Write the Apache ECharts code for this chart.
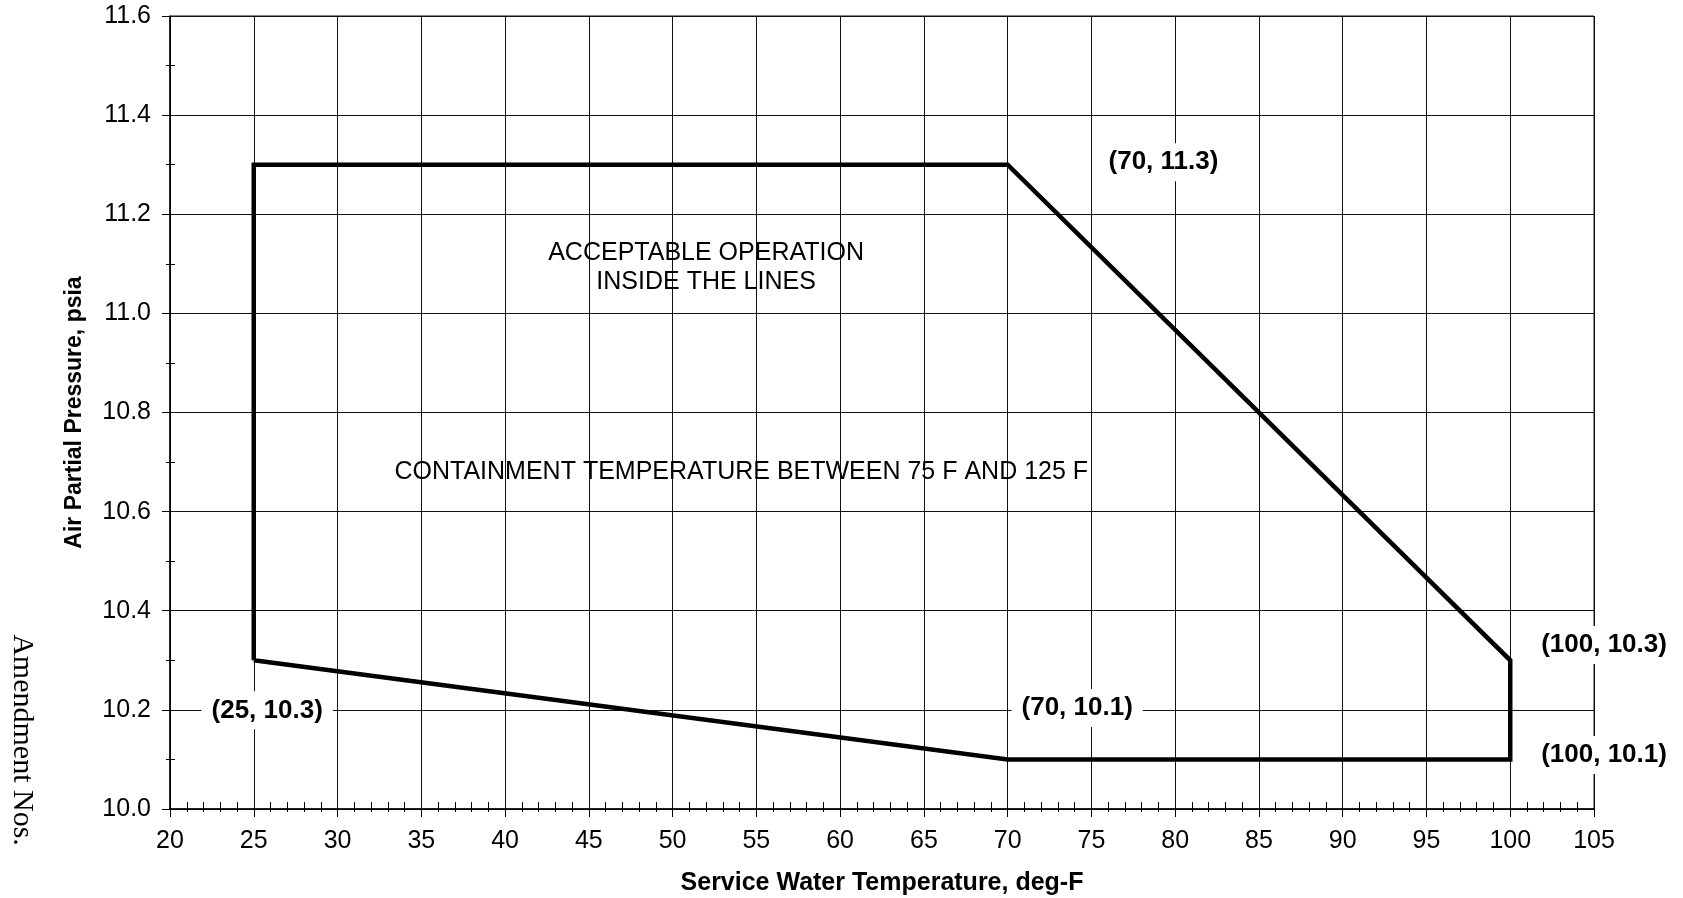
<!DOCTYPE html>
<html>
<head>
<meta charset="utf-8">
<script src="https://cdn.jsdelivr.net/npm/echarts@6/dist/echarts.min.js"></script>
<style>
html,body{margin:0;padding:0;background:#fff;}
#chart{width:1683px;height:898px;}
</style>
</head>
<body>
<div id="chart"></div>
<script>
// Axis ranges / ticks
const xMin = 20, xMax = 105, xStep = 5;
const yMin = 10.0, yMax = 11.6, yStep = 0.2;

// Boundary polygon (closed)
const boundaryX = [25, 25, 70, 100, 100, 70, 25];
const boundaryY = [10.3, 11.3, 11.3, 10.3, 10.1, 10.1, 10.3];

// Point labels and their anchor positions (data space)
const pointLabels = ['(70, 11.3)', '(100, 10.3)', '(100, 10.1)', '(25, 10.3)', '(70, 10.1)'];
const pointLabelX = [79.3, 105.6, 105.6, 25.8, 74.15];
const pointLabelY = [11.305, 10.331, 10.109, 10.199, 10.204];

// Free text notes (data space anchors)
const noteTexts = ['ACCEPTABLE OPERATION\nINSIDE THE LINES', 'CONTAINMENT TEMPERATURE BETWEEN 75 F AND 125 F'];
const noteX = [52.0, 54.1];
const noteY = [11.092, 10.68];

const chart = echarts.init(document.getElementById('chart'), null, {renderer: 'canvas'});
const FONT = 'Liberation Sans, Arial, sans-serif';

const option = {
  backgroundColor: '#fff',
  animation: false,
  grid: {left: 170, top: 16, width: 1424, height: 793, show: true, borderColor: '#111', borderWidth: 1,
         backgroundColor: 'transparent', containLabel: false, outerBoundsMode: 'none'},
  xAxis: [{
    type: 'value', min: xMin, max: xMax, interval: xStep,
    name: 'Service Water Temperature, deg-F', nameLocation: 'middle', nameGap: 62,
    nameTextStyle: {fontFamily: FONT, fontWeight: 'bold', fontSize: 25, color: '#000'},
    axisLine: {show: true, onZero: false, lineStyle: {color: '#000', width: 1.5}},
    axisTick: {show: true, length: 8, lineStyle: {color: '#000', width: 1}},
    minorTick: {show: true, splitNumber: 5, length: 3, lineStyle: {color: '#000', width: 1}},
    axisLabel: {fontFamily: FONT, fontSize: 25, color: '#000', margin: 20},
    splitLine: {show: true, lineStyle: {color: '#111', width: 1}}
  }, {
    type: 'value', min: xMin, max: xMax, interval: xStep, position: 'bottom', gridIndex: 0,
    axisLine: {show: false}, axisLabel: {show: false}, splitLine: {show: false},
    axisTick: {show: false, inside: true},
    minorTick: {show: true, splitNumber: 5, length: 7, lineStyle: {color: '#000', width: 1}}
  }],
  yAxis: [{
    type: 'value', min: yMin, max: yMax, interval: yStep,
    name: 'Air Partial Pressure, psia', nameLocation: 'middle', nameGap: 84,
    nameTextStyle: {fontFamily: FONT, fontWeight: 'bold', fontSize: 23, color: '#000'},
    axisLine: {show: true, onZero: false, lineStyle: {color: '#000', width: 1.5}},
    axisTick: {show: true, length: 8, lineStyle: {color: '#000', width: 1}},
    minorTick: {show: true, splitNumber: 2, length: 4, lineStyle: {color: '#000', width: 1}},
    axisLabel: {fontFamily: FONT, fontSize: 25, color: '#000', margin: 19, formatter: v => v.toFixed(1)},
    splitLine: {show: true, lineStyle: {color: '#111', width: 1}}
  }, {
    type: 'value', min: yMin, max: yMax, interval: yStep, position: 'left', gridIndex: 0,
    axisLine: {show: false}, axisLabel: {show: false}, splitLine: {show: false},
    axisTick: {show: false, inside: true},
    minorTick: {show: true, splitNumber: 2, length: 5, lineStyle: {color: '#000', width: 1}}
  }],
  series: [{
    type: 'line', xAxisIndex: 0, yAxisIndex: 0,
    data: boundaryX.map((x, i) => [x, boundaryY[i]]),
    symbol: 'none', lineStyle: {color: '#000', width: 4.5, join: 'miter'},
    z: 3
  }]
};
chart.setOption(option);

// Point labels and notes positioned from data coordinates
const labelPx = pointLabels.map((t, i) => chart.convertToPixel({gridIndex: 0}, [pointLabelX[i], pointLabelY[i]]));
const notePx = noteTexts.map((t, i) => chart.convertToPixel({gridIndex: 0}, [noteX[i], noteY[i]]));
const labelGraphics = pointLabels.map((t, i) => ({
  type: 'text', x: labelPx[i][0], y: labelPx[i][1], z: 20,
  style: {
    text: t, font: 'bold 26px ' + FONT, fill: '#000', align: 'center', verticalAlign: 'middle',
    backgroundColor: '#fff', padding: [6, 10]
  }
}));
chart.setOption({
  graphic: labelGraphics.concat([
    {type: 'text', x: notePx[0][0], y: notePx[0][1], z: 10,
     style: {text: noteTexts[0], font: '25px ' + FONT, fill: '#000', align: 'center', verticalAlign: 'middle', lineHeight: 29}},
    {type: 'text', x: notePx[1][0], y: notePx[1][1], z: 10,
     style: {text: noteTexts[1], font: '25px ' + FONT, fill: '#000', align: 'center', verticalAlign: 'middle'}},
    {type: 'text', x: 22, y: 740, rotation: -Math.PI / 2, z: 10,
     style: {text: 'Amendment Nos.', font: '30px "Liberation Serif", "Times New Roman", serif', fill: '#000', align: 'center', verticalAlign: 'middle'}}
  ])
});
</script>
</body>
</html>
